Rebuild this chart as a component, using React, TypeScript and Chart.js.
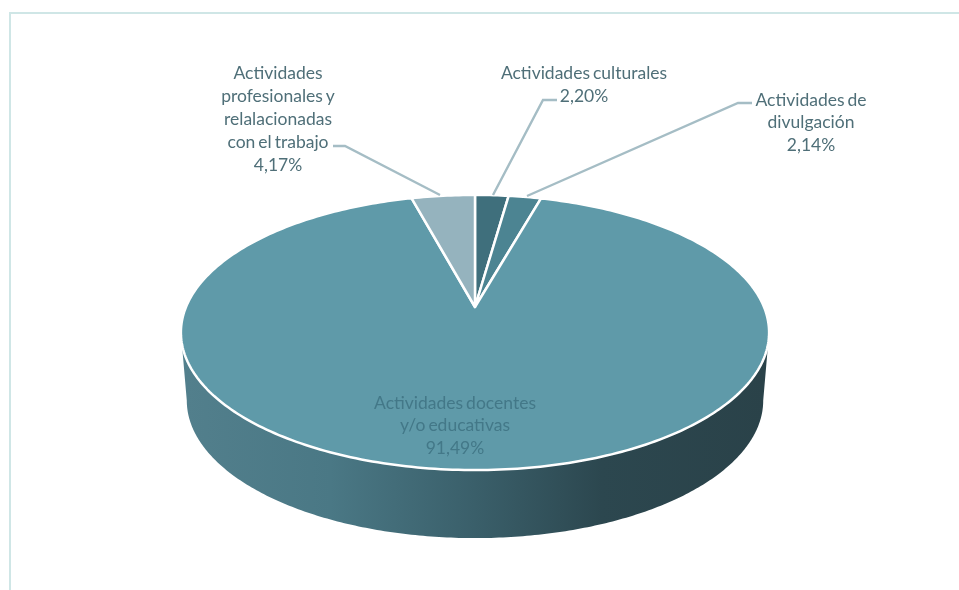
import React, { useEffect, useRef } from "react";
import { Chart, registerables, PieController, ArcElement } from "chart.js";

Chart.register(...registerables);

const categories = [
  ["Actividades culturales"],
  ["Actividades de", "divulgación"],
  ["Actividades docentes", "y/o educativas"],
  ["Actividades", "profesionales y", "relalacionadas", "con el trabajo"],
];
const shares = [2.2, 2.14, 91.49, 4.17];
const sliceColors = ["#3F6F7C", "#4C8492", "#5F9AA9", "#95B3BE"];

const TILT = 0.4597;
const PERSPECTIVE = 0.1854;
const DEPTH = 68;
const FONT = '17.5px Lato, "Open Sans", sans-serif';

function project(cx: number, cy: number, r: number, a: number) {
  const w = 1 - PERSPECTIVE * Math.sin(a);
  return { x: cx + (r * Math.cos(a)) / w, y: cy + (r * TILT * Math.sin(a)) / w };
}

class Arc3D extends ArcElement {
  static id = "arc3d";
  draw(ctx: CanvasRenderingContext2D) {
    const { x, y, startAngle, endAngle, outerRadius } = (this as any).getProps([
      "x", "y", "startAngle", "endAngle", "outerRadius",
    ]);
    const o = (this as any).options;
    ctx.save();
    ctx.beginPath();
    ctx.moveTo(x, y);
    const steps = Math.max(2, Math.ceil((endAngle - startAngle) * 60));
    for (let i = 0; i <= steps; i++) {
      const p = project(x, y, outerRadius, startAngle + ((endAngle - startAngle) * i) / steps);
      ctx.lineTo(p.x, p.y);
    }
    ctx.closePath();
    ctx.fillStyle = o.backgroundColor;
    ctx.fill();
    ctx.strokeStyle = o.borderColor;
    ctx.lineWidth = o.borderWidth;
    ctx.lineJoin = "round";
    ctx.stroke();
    ctx.restore();
  }
}

class Pie3D extends PieController {
  static id = "pie3d";
  static defaults = { ...(PieController as any).defaults, dataElementType: "arc3d" };
}

Chart.register(Arc3D as any, Pie3D as any);

const wallPlugin = {
  id: "wall",
  beforeDatasetsDraw(chart: any) {
    const arc = chart.getDatasetMeta(0).data[0];
    if (!arc) return;
    const { x, y, outerRadius: r } = arc;
    const { ctx } = chart;
    const a0 = Math.asin(PERSPECTIVE);
    ctx.save();
    ctx.beginPath();
    for (let i = 0; i <= 240; i++) {
      const p = project(x, y, r, a0 + ((Math.PI - 2 * a0) * i) / 240);
      ctx.lineTo(x + (p.x - x) * 0.98, p.y + DEPTH);
    }
    for (let i = 0; i <= 240; i++) {
      const p = project(x, y, r, Math.PI - a0 + ((Math.PI + 2 * a0) * i) / 240);
      ctx.lineTo(p.x, p.y);
    }
    ctx.closePath();
    const g = ctx.createLinearGradient(x - r, 0, x + r, 0);
    g.addColorStop(0, "#527F8C");
    g.addColorStop(0.25, "#4A7885");
    g.addColorStop(0.5, "#3A5F6A");
    g.addColorStop(0.72, "#2C474F");
    g.addColorStop(1, "#2A4249");
    ctx.fillStyle = g;
    ctx.fill();
    ctx.restore();
  },
};

const framePlugin = {
  id: "frame",
  beforeDraw(chart: any) {
    const { ctx, width, height } = chart;
    ctx.save();
    ctx.strokeStyle = "#CFE6E6";
    ctx.lineWidth = 2;
    ctx.beginPath();
    ctx.moveTo(10, height);
    ctx.lineTo(10, 13);
    ctx.lineTo(width, 13);
    ctx.stroke();
    ctx.restore();
  },
};

const LEADERS: number[][][] = [
  [[557, 100], [543, 100], [493, 195]],
  [[752, 103], [738, 103], [527, 196]],
  [],
  [[333, 146], [345, 146], [440, 195]],
];
const ANCHORS = [
  { x: 584, y: 73, dy: 23.5, color: "#4F6F78" },
  { x: 811, y: 100, dy: 22.5, color: "#4F6F78" },
  { x: 455, y: 403, dy: 22.7, color: "#437888" },
  { x: 278, y: 73, dy: 23, color: "#4F6F78" },
];

const labelPlugin = {
  id: "labels3d",
  afterDatasetsDraw(chart: any) {
    const { ctx } = chart;
    ctx.save();
    ctx.strokeStyle = "#A5BDC5";
    ctx.lineWidth = 2.4;
    LEADERS.forEach((line) => {
      if (!line.length) return;
      ctx.beginPath();
      line.forEach(([x, y], i) => (i ? ctx.lineTo(x, y) : ctx.moveTo(x, y)));
      ctx.stroke();
    });
    ctx.font = FONT;
    (ctx as any).wordSpacing = "-1.5px";
    ctx.textAlign = "center";
    ctx.textBaseline = "middle";
    categories.forEach((lines, i) => {
      const a = ANCHORS[i];
      const all = [...lines, shares[i].toFixed(2).replace(".", ",") + "%"];
      ctx.fillStyle = a.color;
      all.forEach((t, j) => ctx.fillText(t, a.x, a.y + j * a.dy));
    });
    ctx.restore();
  },
};

export default function App() {
  const ref = useRef<HTMLCanvasElement>(null);
  useEffect(() => {
    document.body.style.margin = "0";
    const chart = new Chart(ref.current as HTMLCanvasElement, {
      type: "pie3d" as any,
      data: {
        labels: categories.map((c) => c.join(" ")),
        datasets: [
          {
            data: shares,
            backgroundColor: sliceColors,
            borderColor: "#FFFFFF",
            borderWidth: 2.5,
          },
        ],
      },
      options: {
        animation: false,
        responsive: false,
        maintainAspectRatio: false,
        radius: 289,
        layout: { padding: { left: 0, right: 9, top: 24, bottom: 0 } },
        plugins: { legend: { display: false }, tooltip: { enabled: false } },
      } as any,
      plugins: [framePlugin, wallPlugin, labelPlugin],
    });
    return () => chart.destroy();
  }, []);
  return (
    <div style={{ width: 959, height: 590, background: "#fff" }}>
      <canvas ref={ref} width={959} height={590} style={{ display: "block" }} />
    </div>
  );
}
